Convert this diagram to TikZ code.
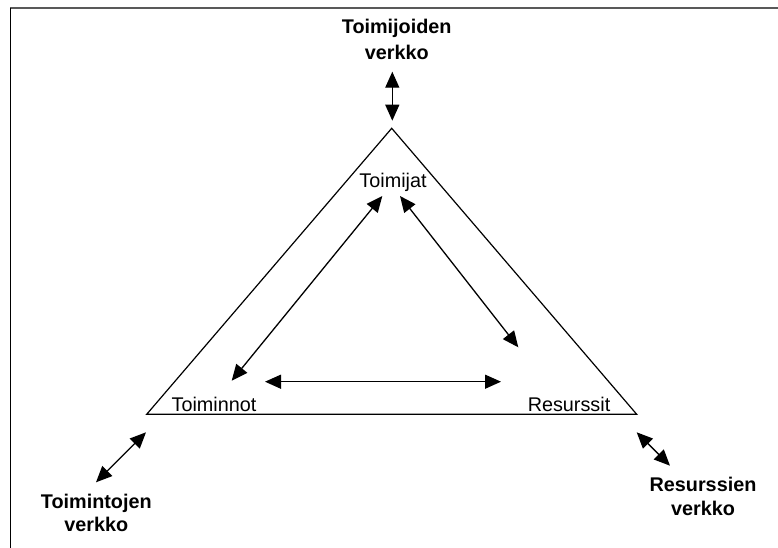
\documentclass[tikz,border=0pt]{standalone}
\usepackage{fontspec}
\setmainfont{Liberation Sans}
\usetikzlibrary{arrows.meta}
\begin{document}
\begin{tikzpicture}[x=1pt,y=-1pt,
  conn/.style={{Triangle[length=16pt,width=14pt]}-{Triangle[length=16pt,width=14pt]}, line width=1.3pt},
  corner/.style={font=\fontsize{19.8}{24}\selectfont, anchor=base, inner sep=0pt},
  network/.style={font=\fontsize{19.8}{24}\selectfont\bfseries, anchor=base, inner sep=0pt},
]
\useasboundingbox (0,0) rectangle (778,548);
\fill[white] (0,0) rectangle (778,548);
% page frame
\draw[gray!70!black, line width=1.3pt] (10,8) -- (778,8);
\draw[black, line width=1pt] (10,8) -- (10,548);

% outer triangle
\coordinate (apex) at (391.7,128.3);
\coordinate (bl) at (146.7,414.3);
\coordinate (br) at (636.7,414.3);
\draw[line width=1.2pt, line join=miter] (apex) -- (bl) -- (br) -- cycle;

% corner labels
\node[corner] (toimijat) at (393,187.7) {Toimijat};
\node[corner] (toiminnot) at (214,411.7) {Toiminnot};
\node[corner] (resurssit) at (569,411.7) {Resurssit};

% network labels
\node[network] (toimijoidenv) at (396.7,33.3) {\begin{tabular}[t]{@{}c@{}}Toimijoiden\\[2pt] verkko\end{tabular}};
\node[network] (toimintojenv) at (96.3,508.3) {\begin{tabular}[t]{@{}c@{}}Toimintojen\\[-0.6pt] verkko\end{tabular}};
\node[network] (resurssienv) at (703,491.7) {\begin{tabular}[t]{@{}c@{}}Resurssien\\[-0.7pt] verkko\end{tabular}};

% arrow end points
\coordinate (a1s) at (382.3,196);   \coordinate (a1e) at (231.7,380.7);
\coordinate (a2s) at (400,196);     \coordinate (a2e) at (518.3,347.3);
\coordinate (a3s) at (265,381.7);   \coordinate (a3e) at (501,381.7);
\coordinate (tops) at (392.3,71.7); \coordinate (tope) at (392.3,120.7);
\coordinate (bls) at (146,432.3);   \coordinate (ble) at (96,482.3);
\coordinate (brs) at (636.7,432.3); \coordinate (bre) at (670,465.7);

% inner relations
\draw[conn] (a1s) -- (a1e);
\draw[conn] (a2s) -- (a2e);
\draw[conn] (a3s) -- (a3e);
% links to the networks
\draw[conn] (tops) -- (tope);
\draw[conn] (bls) -- (ble);
\draw[conn] (brs) -- (bre);
\end{tikzpicture}
\end{document}
